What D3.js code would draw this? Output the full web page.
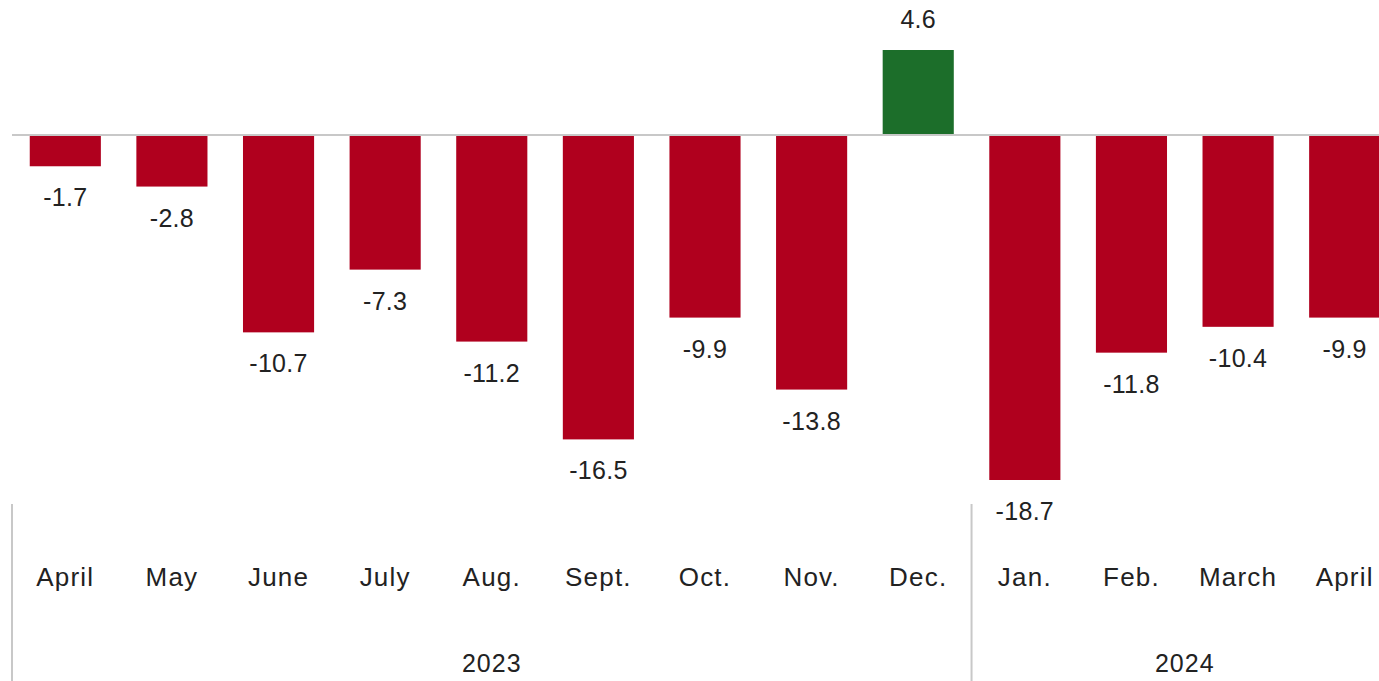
<!DOCTYPE html>
<html>
<head>
<meta charset="utf-8">
<script src="https://cdn.jsdelivr.net/npm/d3@7"></script>
<style>
  body { margin: 0; background: #fff; overflow: hidden; }
  svg { display: block; }
  text { font-family: "Liberation Sans", Arial, sans-serif; fill: #222; }
</style>
</head>
<body>
<div id="chart"></div>
<script>
// data
const months = ["April", "May", "June", "July", "Aug.", "Sept.", "Oct.", "Nov.", "Dec.", "Jan.", "Feb.", "March", "April "];
const values = [-1.7, -2.8, -10.7, -7.3, -11.2, -16.5, -9.9, -13.8, 4.6, -18.7, -11.8, -10.4, -9.9];
const years = ["2023", "2024"];
const yearSpan = [[0, 8], [9, 12]];

const W = 1379, H = 681;
const svg = d3.select("#chart").append("svg")
  .attr("width", W)
  .attr("height", H);

// band goes a bit past the right edge, last bar is cut off
const x = d3.scaleBand()
  .domain(months)
  .range([12, 1398])
  .paddingInner(0.333)
  .paddingOuter(0.1665);

const y = d3.scaleLinear()
  .domain([-18.7, 4.6])
  .range([480, 50]);

const red = "#b0001e", green = "#1c6e2a";

// bars
svg.append("g")
  .selectAll("rect")
  .data(values)
  .enter()
  .append("rect")
    .attr("x", (d, i) => x(months[i]))
    .attr("width", x.bandwidth())
    .attr("y", d => y(Math.max(0, d)))
    .attr("height", d => Math.abs(y(d) - y(0)))
    .attr("fill", d => d >= 0 ? green : red);

// zero line
svg.append("line")
  .attr("x1", 12).attr("x2", W)
  .attr("y1", y(0)).attr("y2", y(0))
  .attr("stroke", "#c8c8c8")
  .attr("stroke-width", 2);

// value labels
svg.append("g")
  .selectAll("text")
  .data(values)
  .enter()
  .append("text")
    .attr("x", (d, i) => x(months[i]) + x.bandwidth() / 2)
    .attr("y", d => d >= 0 ? y(d) - 31 : y(d) + 31)
    .attr("text-anchor", "middle")
    .attr("dominant-baseline", "central")
    .style("font-size", "25px")
    .style("letter-spacing", "0.3px")
    .text(d => d.toFixed(1));

// month labels
svg.append("g")
  .selectAll("text")
  .data(months)
  .enter()
  .append("text")
    .attr("x", d => x(d) + x.bandwidth() / 2)
    .attr("y", 577)
    .attr("text-anchor", "middle")
    .attr("dominant-baseline", "central")
    .style("font-size", "26px")
    .style("letter-spacing", "1.2px")
    .text(d => d.trim());

// year group separators + labels
const step = x.step();
const groupLeft = i => x.range()[0] + i * step;
yearSpan.forEach((s, k) => {
  const x0 = groupLeft(s[0]);
  const x1 = groupLeft(s[1] + 1);
  svg.append("line")
    .attr("x1", x0).attr("x2", x0)
    .attr("y1", 504).attr("y2", H)
    .attr("stroke", "#c8c8c8")
    .attr("stroke-width", 2);
  svg.append("text")
    .attr("x", (x0 + x1) / 2)
    .attr("y", 663)
    .attr("text-anchor", "middle")
    .attr("dominant-baseline", "central")
    .style("font-size", "25px")
    .style("letter-spacing", "1px")
    .text(years[k]);
});
</script>
</body>
</html>
